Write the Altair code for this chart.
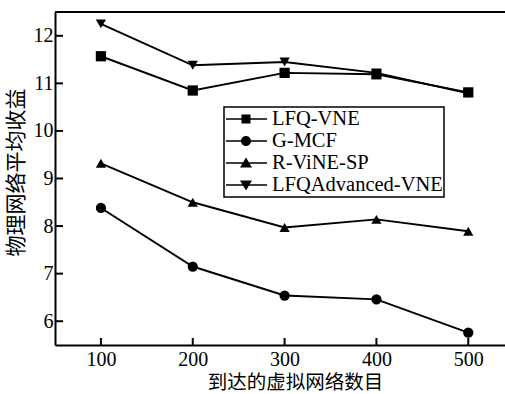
import altair as alt
import pandas as pd

x_vals = [100, 200, 300, 400, 500]
series = ["LFQ-VNE", "G-MCF", "R-ViNE-SP", "LFQAdvanced-VNE"]
lfq_vne = [11.57, 10.85, 11.22, 11.19, 10.81]
g_mcf = [8.38, 7.15, 6.54, 6.46, 5.76]
r_vine_sp = [9.32, 8.50, 7.97, 8.14, 7.89]
lfq_adv = [12.25, 11.38, 11.45, 11.22, 10.79]
y_ticks = [6, 7, 8, 9, 10, 11, 12]

x_title = "到达的虚拟网络数目"
y_title = "物理网络平均收益"

rows = []
for name, vals in zip(series, [lfq_vne, g_mcf, r_vine_sp, lfq_adv]):
    for xv, yv in zip(x_vals, vals):
        rows.append({"series": name, "x": xv, "y": yv})
df = pd.DataFrame(rows)
xt = pd.DataFrame({"v": x_vals})
yt = pd.DataFrame({"v": y_ticks})

W, H = 450, 333
SERIF = "Liberation Serif"
CJK = "Noto Sans CJK SC"

xs = alt.Scale(domain=[50, 540], nice=False, zero=False)
ys = alt.Scale(domain=[5.5, 12.5], nice=False, zero=False)

x_axis = alt.Axis(values=x_vals, ticks=False, grid=False, domainColor="black", domainWidth=2,
                  labelFont=SERIF, labelFontSize=20, labelColor="black", labelPadding=4,
                  title=x_title, titleFont=CJK, titleFontSize=19.5, titleFontWeight="normal",
                  titleColor="black", titleX=240, titleY=37.5, titleAlign="center",
                  titleBaseline="middle", labelFlush=False)
y_axis = alt.Axis(values=y_ticks, ticks=False, grid=False, domainColor="black", domainWidth=2,
                  labelFont=SERIF, labelFontSize=20, labelColor="black", labelPadding=2,
                  title=y_title, titleFont=CJK, titleFontSize=21, titleFontWeight="normal",
                  titleColor="black", titleX=-39, titleY=160, titleAlign="center",
                  titleBaseline="middle", titleAngle=270, labelFlush=False)

base = alt.Chart(df)

lines = base.mark_line(color="black", strokeWidth=1.9).encode(
    x=alt.X("x:Q", scale=xs, axis=x_axis),
    y=alt.Y("y:Q", scale=ys, axis=y_axis),
    detail="series:N",
)

points = base.mark_point(filled=True, color="black", opacity=1, size=105).encode(
    x=alt.X("x:Q", scale=xs),
    y=alt.Y("y:Q", scale=ys),
    shape=alt.Shape("series:N", scale=alt.Scale(domain=series,
                    range=["square", "circle", "triangle-up", "triangle-down"]), legend=None),
)

# legend symbols: a short horizontal bar (line) plus the marker, in unit coordinates,
# shifted right so the bar starts at the legend's left edge; all paths clockwise
line_seg = "M-1.0,-0.08H3.1V0.08H-1.0Z"
legend_paths = [
    line_seg + "M0.55,-0.45H1.45V0.45H0.55Z",
    line_seg + "M0.5,0A0.5,0.5 0 1 1 1.5,0A0.5,0.5 0 1 1 0.5,0Z",
    line_seg + "M1,-0.55L1.6,0.45L0.4,0.45Z",
    line_seg + "M1,0.55L0.4,-0.45L1.6,-0.45Z",
]

legend_layer = base.transform_filter("false").mark_point(filled=True, color="black", opacity=1).encode(
    x=alt.X("x:Q", scale=xs),
    y=alt.Y("y:Q", scale=ys),
    shape=alt.Shape("series:N", scale=alt.Scale(domain=series, range=legend_paths),
                    legend=alt.Legend(title=None, orient="none", legendX=169, legendY=95,
                                      symbolSize=400, symbolFillColor="black",
                                      symbolOpacity=1,
                                      labelFont=SERIF, labelFontSize=20.5, labelColor="black",
                                      labelExpr="datum.label + '\u00a0'",
                                      labelLimit=400, labelOffset=25, rowPadding=0,
                                      padding=1, strokeColor="black",
                                      fillColor="white")),
    size=alt.value(400),
)

xticks = alt.Chart(xt).mark_rule(color="black", strokeWidth=2).encode(
    x=alt.X("v:Q", scale=xs), y=alt.value(H), y2=alt.value(H - 7))
yticks = alt.Chart(yt).mark_rule(color="black", strokeWidth=2).encode(
    y=alt.Y("v:Q", scale=ys), x=alt.value(0), x2=alt.value(8))
top_border = alt.Chart(xt).mark_rule(color="black", strokeWidth=2).encode(
    x=alt.value(0), x2=alt.value(W), y=alt.value(0))

chart = alt.layer(lines, points, legend_layer, xticks, yticks, top_border).resolve_scale(
    shape="independent"
).properties(
    width=W, height=H,
    autosize=alt.AutoSizeParams(type="none"),
    padding={"left": 55, "top": 12, "right": 0, "bottom": 49},
    background="white",
).configure_view(stroke=None).configure_legend(strokeWidth=1.5)

chart.save("out.html", embed_options={"renderer": "svg", "actions": False})
